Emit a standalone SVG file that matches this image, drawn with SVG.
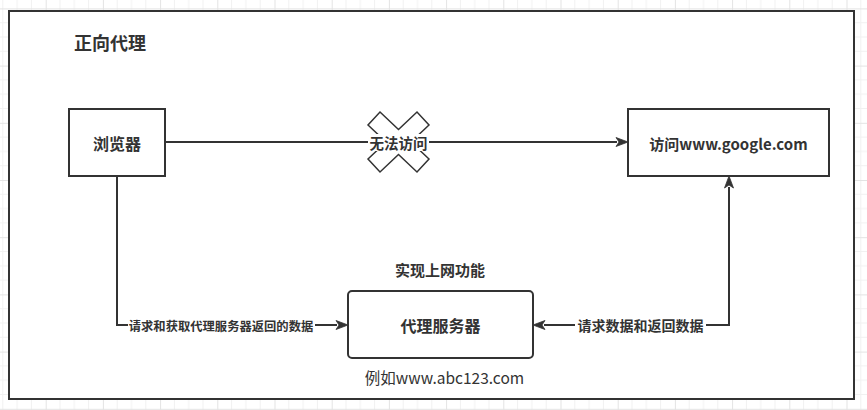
<svg xmlns="http://www.w3.org/2000/svg" width="867" height="410" viewBox="0 0 867 410">
<defs>
<pattern id="grid" patternUnits="userSpaceOnUse" x="45.7" y="8.4" width="57.2" height="57.2">
<path d="M14.3,0V57.2M28.6,0V57.2M42.9,0V57.2M0,14.3H57.2M0,28.6H57.2M0,42.9H57.2" stroke="#f1f1f1" stroke-width="1" fill="none"/>
<path d="M0.5,0V57.2M0,0.5H57.2" stroke="#e3e3e3" stroke-width="1" fill="none"/>
</pattern>
<marker id="arr" markerUnits="userSpaceOnUse" markerWidth="14" markerHeight="12" refX="1" refY="5" orient="auto-start-reverse" overflow="visible">
<path d="M0,0.5 L12,5 L0,9.5 L3,5 Z" fill="#333" stroke="#333" stroke-width="0.8" stroke-linejoin="miter"/>
</marker>
<style>
.box{fill:#fff;stroke:#333;stroke-width:2}
.edge{fill:none;stroke:#333;stroke-width:2}
.t{font-family:"Noto Sans CJK SC","Noto Sans",sans-serif;fill:#333;text-anchor:middle;dominant-baseline:central}
.b{font-weight:bold}
.lbl{fill:#fff;stroke:none}
</style>
</defs>
<rect x="0" y="0" width="867" height="410" fill="#fff"/>
<rect x="0" y="0" width="867" height="410" fill="url(#grid)"/>
<g id="container">
<rect x="9" y="11" width="845" height="388" class="box"/>
<text class="t b" x="110" y="42" font-size="18">正向代理</text>
</g>
<g id="connectors">
<path class="edge" d="M165,142H617" marker-end="url(#arr)"/>
<path class="edge" d="M117,176V325H337" marker-end="url(#arr)"/>
<path class="edge" d="M544,325H729V187" marker-start="url(#arr)" marker-end="url(#arr)"/>
<polygon points="380,112 398.5,129.5 417,112 429,125 411,142 429,159 417,172 398.5,154.5 380,172 368,159 386,142 368,125" fill="#fff" stroke="#333" stroke-width="1.5" stroke-linejoin="miter"/>
<rect class="lbl" x="368" y="134" width="61" height="17"/>
<text class="t b" x="398.5" y="142" font-size="14.5">无法访问</text>
<rect class="lbl" x="128" y="318" width="187" height="15"/>
<text class="t b" x="221" y="325.5" font-size="12.3">请求和获取代理服务器返回的数据</text>
<rect class="lbl" x="575" y="316" width="131" height="18"/>
<text class="t b" x="640.5" y="325" font-size="14">请求数据和返回数据</text>
</g>
<g id="browser">
<rect x="69" y="109" width="96" height="67" class="box"/>
<text class="t b" x="117" y="143" font-size="16">浏览器</text>
</g>
<g id="google">
<rect x="628" y="109" width="201" height="67" class="box"/>
<text class="t b" x="728.5" y="143" font-size="15">访问www.google.com</text>
</g>
<g id="proxy">
<rect x="348" y="291" width="185" height="67" rx="4" ry="4" class="box"/>
<text class="t b" x="440.5" y="325" font-size="16">代理服务器</text>
<text class="t b" x="440" y="269" font-size="15">实现上网功能</text>
<text class="t" x="444.5" y="377" font-size="15.5">例如www.abc123.com</text>
</g>
</svg>
